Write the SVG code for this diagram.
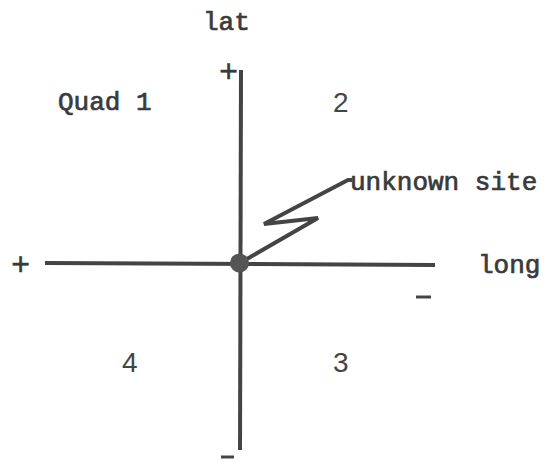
<svg xmlns="http://www.w3.org/2000/svg" width="545" height="462" viewBox="0 0 545 462">
<style>
.mono{font-family:"Liberation Mono","Courier New",monospace;font-size:26px;fill:#3a3a3a;stroke:#3a3a3a;stroke-width:0.7}
.plus{font-family:"Liberation Mono","Courier New",monospace;font-size:32px;fill:#3a3a3a;stroke:#3a3a3a;stroke-width:0.5}
.num{font-family:"Liberation Sans",Arial,sans-serif;font-size:28px;fill:#444}
.ax{stroke:#444;stroke-width:4;fill:none;stroke-linecap:butt}
.zz{stroke:#444;stroke-width:4;fill:none;stroke-linejoin:miter}
</style>
<rect width="545" height="462" fill="#fff"/>
<g id="connectors">
<path class="ax" d="M241 70 L240 450"/>
<path class="ax" d="M45 263 L435 265"/>
<path class="zz" d="M240 263 L318 218 L264 224 L348 180 L352 180"/>
</g>
<g id="origin"><circle cx="239.5" cy="263" r="9.5" fill="#555"/></g>
<g id="labels">
<text class="mono" x="203" y="30">lat</text>
<text class="mono" x="58" y="110">Quad 1</text>
<text class="num" x="333" y="112">2</text>
<text class="num" x="122" y="372">4</text>
<text class="num" x="333" y="372">3</text>
<text class="mono" x="350" y="190">unknown site</text>
<text class="mono" x="478" y="273">long</text>
<text class="plus" x="11" y="275">+</text>
<text class="plus" x="219" y="82">+</text>
<path d="M416 297 H431" stroke="#444" stroke-width="3"/>
<path d="M221 457 H234" stroke="#444" stroke-width="3"/>
</g>
</svg>
